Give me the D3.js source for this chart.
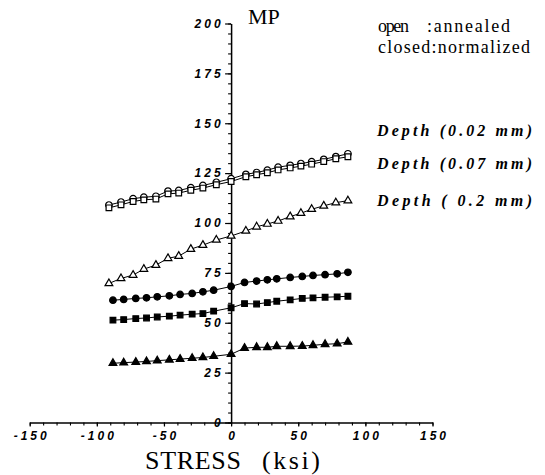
<!DOCTYPE html>
<html>
<head>
<meta charset="utf-8">
<script src="https://cdn.jsdelivr.net/npm/d3@7"></script>
<style>
  html, body { margin: 0; padding: 0; background: #fff; }
  svg { display: block; }
</style>
</head>
<body>
<svg id="chart" width="545" height="475"></svg>
<script>
// ---- data ----
const stressAnnealed   = [-91, -82, -73, -65, -56, -47, -39, -30, -21, -11, 0, 11, 19, 27, 35, 44, 52, 60, 69, 78, 87];
const stressNormalized = [-88, -80, -71, -63, -55, -46, -38, -29, -21, -13, 0, 10, 19, 27, 34, 44, 53, 61, 70, 79, 87];

const annealed002  = [109.0, 110.5, 112.2, 112.9, 113.4, 116.0, 116.3, 117.7, 118.8, 120.4, 122.2, 124.4, 125.3, 126.5, 128.0, 128.9, 129.8, 130.7, 131.9, 133.3, 134.7];
const annealed007  = [107.6, 109.1, 110.8, 111.6, 112.0, 114.6, 115.0, 116.4, 117.5, 119.2, 120.8, 123.2, 124.2, 125.2, 126.6, 127.6, 128.5, 129.5, 130.8, 132.2, 133.2];
const annealed02   = [69.7, 72.2, 73.9, 76.9, 78.9, 82.3, 83.4, 86.9, 88.9, 91.5, 93.5, 96.0, 98.1, 99.5, 101.0, 103.2, 104.9, 106.9, 108.6, 110.2, 111.2];
const normalized002 = [61.3, 61.7, 62.2, 62.5, 63.0, 63.5, 64.2, 64.7, 65.5, 66.3, 68.2, 70.2, 70.9, 71.5, 72.0, 72.7, 73.2, 73.7, 74.1, 74.5, 75.3];
const normalized007 = [51.3, 51.6, 52.1, 52.4, 52.9, 53.3, 53.8, 54.3, 54.6, 55.8, 57.5, 59.6, 59.4, 60.1, 60.8, 61.5, 62.2, 62.5, 62.8, 63.0, 63.3];
const normalized02  = [29.7, 30.0, 30.3, 30.6, 31.0, 31.4, 31.8, 32.2, 32.6, 33.2, 34.2, 37.3, 37.7, 37.7, 38.2, 38.2, 38.3, 38.7, 39.2, 39.5, 40.4];

const xMajorTicks = [-150, -100, -50, 0, 50, 100, 150];
const yMajorTicks = [0, 25, 50, 75, 100, 125, 150, 175, 200];
const legendOpen = ["open", ":annealed"];
const legendClosed = "closed:normalized";
const depthLabels = ["Depth (0.02 mm)", "Depth (0.07 mm)", "Depth ( 0.2 mm)"];

const seriesList = [
  { x: stressAnnealed,   y: annealed002,   shape: "circle",   filled: false },
  { x: stressAnnealed,   y: annealed007,   shape: "square",   filled: false },
  { x: stressAnnealed,   y: annealed02,    shape: "triangle", filled: false },
  { x: stressNormalized, y: normalized002, shape: "circle",   filled: true },
  { x: stressNormalized, y: normalized007, shape: "square",   filled: true },
  { x: stressNormalized, y: normalized02,  shape: "triangle", filled: true }
];

// ---- drawing ----
const svg = d3.select("#chart");
svg.append("rect").attr("width", 545).attr("height", 475).attr("fill", "#fff");

const x = d3.scaleLinear().domain([-150, 150]).range([29.7, 432.5]);
const y = d3.scaleLinear().domain([0, 200]).range([422.5, 23.5]);

const tickFont = "'Liberation Sans', Arial, sans-serif";

// x axis: minor ticks
svg.append("g")
  .attr("transform", `translate(0,${y(0)})`)
  .call(d3.axisBottom(x).tickValues(d3.range(-150, 151, 10)).tickSize(3).tickSizeOuter(0).tickFormat(""))
  .call(g => g.select(".domain").attr("stroke-width", 1.3))
  .call(g => g.selectAll(".tick line").attr("stroke-width", 1.1));
// x axis: major ticks + labels
svg.append("g")
  .attr("transform", `translate(0,${y(0)})`)
  .call(d3.axisBottom(x).tickValues(xMajorTicks).tickSize(4).tickSizeOuter(0).tickPadding(4.5).tickFormat(d => String(d)))
  .call(g => g.select(".domain").remove())
  .call(g => g.selectAll(".tick line").attr("stroke-width", 1.2))
  .call(g => g.selectAll(".tick text")
    .attr("font-family", tickFont).attr("font-size", 12).attr("font-style", "italic")
    .attr("font-weight", "bold").attr("letter-spacing", "3px").attr("fill", "#000")
    .attr("dx", "1.5px"));

// y axis: minor ticks
svg.append("g")
  .attr("transform", `translate(${x(0)},0)`)
  .call(d3.axisLeft(y).tickValues(d3.range(0, 201, 5)).tickSize(3).tickSizeOuter(0).tickFormat(""))
  .call(g => g.select(".domain").attr("stroke-width", 1.5))
  .call(g => g.selectAll(".tick line").attr("stroke-width", 1.1));
// y axis: major ticks + labels
svg.append("g")
  .attr("transform", `translate(${x(0)},0)`)
  .call(d3.axisLeft(y).tickValues(yMajorTicks).tickSize(6).tickSizeOuter(0).tickPadding(1.5).tickFormat(d => String(d)))
  .call(g => g.select(".domain").remove())
  .call(g => g.selectAll(".tick line").attr("stroke-width", 1.2))
  .call(g => g.selectAll(".tick text")
    .attr("font-family", tickFont).attr("font-size", 12).attr("font-style", "italic")
    .attr("font-weight", "bold").attr("letter-spacing", "3px").attr("fill", "#000"));

// series
const line = d3.line().x(d => x(d[0])).y(d => y(d[1]));
seriesList.forEach(s => {
  const pts = s.x.map((v, i) => [v, s.y[i]]);
  svg.append("path").datum(pts).attr("d", line)
    .attr("fill", "none").attr("stroke", "#000").attr("stroke-width", 1);
  const sym = s.shape === "circle" ? d3.symbolCircle : s.shape === "square" ? d3.symbolSquare : d3.symbolTriangle;
  const size = s.shape === "circle" ? 34 : s.shape === "square" ? 32 : 26;
  svg.append("g").selectAll("path").data(pts).join("path")
    .attr("transform", d => `translate(${x(d[0])},${y(d[1])})`)
    .attr("d", d3.symbol(sym, size))
    .attr("fill", s.filled ? "#000" : "#fff")
    .attr("stroke", "#000").attr("stroke-width", 1.2);
});

// axis titles
const serif = "'Liberation Serif', 'Times New Roman', serif";
svg.append("text").attr("x", 248).attr("y", 24).attr("font-family", serif)
  .attr("font-size", 22).attr("fill", "#000").text("MP");
svg.append("text").attr("x", 145).attr("y", 469).attr("font-family", serif)
  .attr("font-size", 26).attr("fill", "#000")
  .attr("textLength", 96).attr("lengthAdjust", "spacing").text("STRESS");
svg.append("text").attr("x", 262).attr("y", 469).attr("font-family", serif)
  .attr("font-size", 26).attr("fill", "#000")
  .attr("textLength", 58).attr("lengthAdjust", "spacing").text("(ksi)");

// legend
svg.append("text").attr("x", 378).attr("y", 32).attr("font-family", serif)
  .attr("font-size", 18).attr("fill", "#000")
  .attr("textLength", 31).attr("lengthAdjust", "spacing").text(legendOpen[0]);
svg.append("text").attr("x", 427).attr("y", 32).attr("font-family", serif)
  .attr("font-size", 18).attr("fill", "#000")
  .attr("textLength", 83).attr("lengthAdjust", "spacing").text(legendOpen[1]);
svg.append("text").attr("x", 378).attr("y", 53).attr("font-family", serif)
  .attr("font-size", 18).attr("fill", "#000")
  .attr("textLength", 152).attr("lengthAdjust", "spacing").text(legendClosed);

// depth labels
const depthY = [135.5, 168.5, 206];
depthLabels.forEach((t, i) => {
  svg.append("text").attr("x", 377).attr("y", depthY[i]).attr("font-family", serif)
    .attr("font-size", 16).attr("font-style", "italic").attr("font-weight", "bold").attr("fill", "#000")
    .attr("textLength", 155).attr("lengthAdjust", "spacing").text(t);
});
</script>
</body>
</html>
